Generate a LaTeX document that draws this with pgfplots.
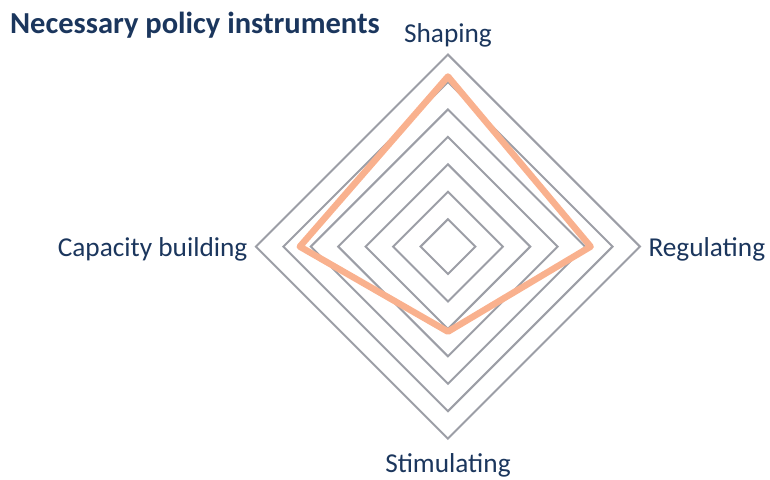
\documentclass[border=0pt]{standalone}
\usepackage{pgfplots}
\pgfplotsset{compat=1.18}
\usepackage{fontspec}
\setmainfont{Carlito}
\definecolor{navy}{HTML}{1B365D}
\definecolor{ringgray}{HTML}{9C9EA6}
\definecolor{salmon}{HTML}{F9B18E}
\begin{document}
\begin{tikzpicture}
\begin{axis}[x=27.43pt,y=27.43pt,hide axis,clip=false,
  xmin=-7,xmax=7,ymin=-7,ymax=7]
\pgfplotsinvokeforeach{1,...,7}{
  \addplot[ringgray,line width=2pt,line join=miter] coordinates {(0,#1)(#1,0)(0,-#1)(-#1,0)} -- cycle;
}
\addplot[salmon,line width=6.5pt,line join=round] coordinates {(0,6.2)(5.2,0)(0,-3.1)(-5.4,0)} -- cycle;
\coordinate (ll) at (axis cs:-16.33,-8.48);
\coordinate (ur) at (axis cs:11.74,8.99);
\node[anchor=base,text=navy,font=\fontsize{27.3}{31}\selectfont,yshift=12pt] at (axis cs:0,7) {Shaping};
\node[anchor=base west,text=navy,font=\fontsize{27.3}{31}\selectfont,xshift=5pt,yshift=-10pt] at (axis cs:7,0) {Regulating};
\node[anchor=base east,text=navy,font=\fontsize{27.3}{31}\selectfont,xshift=-5pt,yshift=-10pt] at (axis cs:-7,0) {Capacity building};
\node[anchor=base,text=navy,font=\fontsize{27.3}{31}\selectfont,yshift=-34pt] at (axis cs:0,-7) {Stimulating};
\node[anchor=base west,text=navy,font=\bfseries\fontsize{30.5}{35}\selectfont,xshift=-438pt,yshift=213.5pt,inner sep=0pt] at (axis cs:0,0) {Necessary policy instruments};
\end{axis}
\pgfresetboundingbox
\useasboundingbox (ll) rectangle (ur);
\end{tikzpicture}
\end{document}
